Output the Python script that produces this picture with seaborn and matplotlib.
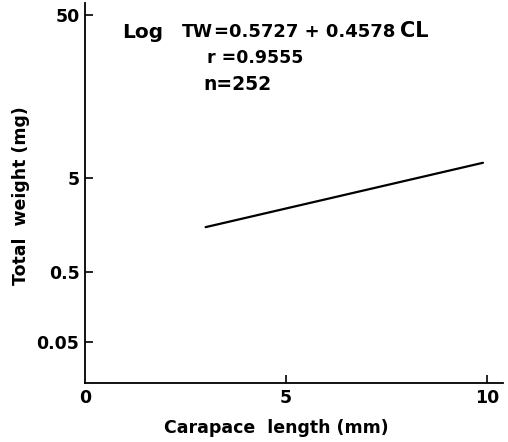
import numpy as np
import matplotlib
matplotlib.use("Agg")
import matplotlib.pyplot as plt
import seaborn as sns
import pandas as pd

# ---- data ----
carapace_length = [3.0, 9.9]
total_weight = [1.5, 6.2]
x_ticks = [0, 5, 10]
x_tick_labels = ["0", "5", "10"]
y_ticks = [0.05, 0.5, 5, 50]
y_tick_labels = ["0.05", "0.5", "5", "50"]
x_label = "Carapace  length (mm)"
y_label = "Total  weight (mg)"

sns.set_theme(style="white")
plt.rcParams["font.family"] = ["DejaVu Sans"]
plt.rcParams["font.weight"] = "bold"

W, H = 508, 442
fig = plt.figure(figsize=(W / 100, H / 100), dpi=100)
fig.patch.set_facecolor("white")

# axes placement (pixels)
ax_left, ax_right, ax_bottom, ax_top = 85, 503, 383, 3
ax = fig.add_axes([ax_left / W, 1 - ax_bottom / H,
                   (ax_right - ax_left) / W, (ax_bottom - ax_top) / H])

# The original y axis is a hand-drawn "log" axis whose decades are unequally spaced.
# Piecewise-logarithmic scale through the printed tick marks.
_log_knots = list(np.log10(y_ticks))
_dist_knots = [41, 111, 205, 368]
_lo_slope = (_dist_knots[1] - _dist_knots[0]) / (_log_knots[1] - _log_knots[0])
_hi_slope = (_dist_knots[-1] - _dist_knots[-2]) / (_log_knots[-1] - _log_knots[-2])
LX = np.array([-30.0] + _log_knots + [30.0])
DX = np.array([_dist_knots[0] - _lo_slope * (_log_knots[0] + 30.0)] + _dist_knots +
              [_dist_knots[-1] + _hi_slope * (30.0 - _log_knots[-1])])


def fwd(v):
    v = np.asarray(v, dtype=float)
    return np.interp(np.log10(np.maximum(v, 1e-300)), LX, DX)


def inv(d):
    d = np.asarray(d, dtype=float)
    return 10 ** np.interp(d, DX, LX)


ax.set_yscale("function", functions=(fwd, inv))

df = pd.DataFrame({"CL": carapace_length, "TW": total_weight})
sns.lineplot(data=df, x="CL", y="TW", color="black", linewidth=1.6, ax=ax)

ax.set_xlim(0, (ax_right - ax_left) / 40.2)
ax.set_ylim(inv(0), inv(ax_bottom - ax_top))

ax.set_xticks(x_ticks)
ax.set_xticklabels(x_tick_labels, fontsize=12.5, fontweight="bold")
ax.set_yticks(y_ticks)
ax.set_yticklabels(y_tick_labels, fontsize=12.5, fontweight="bold")
ax.minorticks_off()
ax.tick_params(axis="both", direction="in", length=6, width=1.2, color="black",
               left=True, bottom=True, labelcolor="black")
ax.tick_params(axis="x", pad=4)
ax.tick_params(axis="y", pad=4)
ax.xaxis.get_major_ticks()[0].tick1line.set_visible(False)

for side in ["top", "right"]:
    ax.spines[side].set_visible(False)
for side in ["left", "bottom"]:
    ax.spines[side].set_color("black")
    ax.spines[side].set_linewidth(1.3)
ax.grid(False)

ax.set_xlabel(x_label, fontsize=12.5, fontweight="bold", color="black")
ax.set_ylabel(y_label, fontsize=12.5, fontweight="bold", color="black")
ax.xaxis.set_label_coords((276 - ax_left) / (ax_right - ax_left),
                          (ax_bottom - 428) / (ax_bottom - ax_top))
ax.xaxis.label.set(va="center", ha="center")
ax.yaxis.set_label_coords((21 - ax_left) / (ax_right - ax_left),
                          (ax_bottom - 196) / (ax_bottom - ax_top))
ax.yaxis.label.set(va="center", ha="center", rotation_mode="anchor")


def ftext(x, y, s, size):
    fig.text(x / W, 1 - y / H, s, fontsize=size, fontweight="bold",
             color="black", ha="left", va="baseline")


ftext(122, 38, "Log", 14.5)
ftext(182, 37, "TW", 12.5)
ftext(214, 37, "=0.5727 + 0.4578", 13)
ftext(400, 37, "CL", 15)
ftext(207, 63, "r =0.9555", 12.5)
ftext(203, 90, "n=252", 13.5)

fig.savefig("out.png", dpi=100, facecolor="white")
